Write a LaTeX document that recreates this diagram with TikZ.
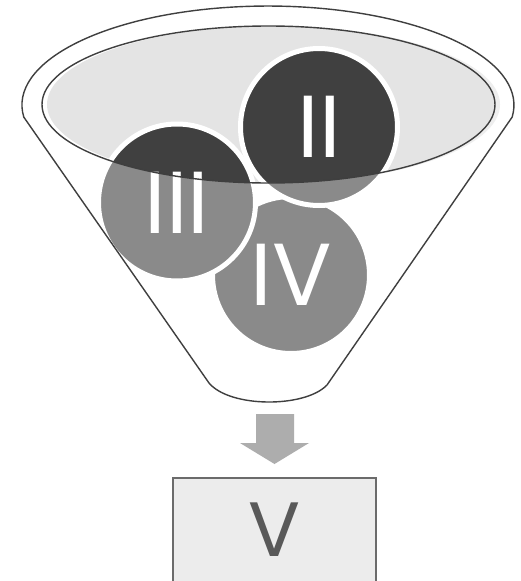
\documentclass[tikz,border=0pt]{standalone}
\usepackage{fontspec}
\setmainfont{Poppins}
\definecolor{dark}{HTML}{404040}
\definecolor{outline}{HTML}{3F3F3F}
\definecolor{ellgray}{HTML}{E4E4E4}
\definecolor{arrowgray}{HTML}{ADADAD}
\definecolor{boxfill}{HTML}{ECECEC}
\definecolor{boxdraw}{HTML}{6B6B6B}
\definecolor{vtext}{HTML}{595959}
\begin{document}
\begin{tikzpicture}[x=1pt,y=1pt,
  ball/.style={circle, minimum size=157pt, inner sep=0pt, draw=white, line width=5pt,
    fill=dark, text=white, font=\fontsize{88}{88}\selectfont},
  funnelline/.style={draw=outline, line width=1.4pt},
  resultbox/.style={draw=boxdraw, line width=1.5pt, fill=boxfill},
  resultlabel/.style={inner sep=0pt, text=vtext, font=\fontsize{77}{77}\selectfont},
]
\clip (0,0) rectangle (521,-581);
\fill[white] (0,0) rectangle (521,-581);
% funnel body
\fill[white] (23.8,-117.1) arc[start angle=187, end angle=-7, x radius=246, y radius=99]
  -- (327,-385) .. controls (305,-408) and (230,-408) .. (209,-383) -- cycle;
% inner ellipse fill
\fill[ellgray] (273.5,-104.5) ellipse [x radius=226.5, y radius=78.5];
% balls
\node[ball] (iv) at (291,-275) {IV};
\node[ball] (iii) at (177,-202.5) {III};
\node[ball] (ii) at (319,-127) {II};
% translucent funnel front
\fill[white, fill opacity=0.393, even odd rule]
  (23.8,-117.1) arc[start angle=187, end angle=-7, x radius=246, y radius=99]
  -- (327,-385) .. controls (305,-408) and (230,-408) .. (209,-383) -- cycle
  (268.5,-104.5) ellipse [x radius=226.5, y radius=78.5];
% outlines
\draw[funnelline] (268.5,-104.5) ellipse [x radius=226.5, y radius=78.5];
\draw[funnelline, line join=round] (23.8,-117.1) arc[start angle=187, end angle=-7, x radius=246, y radius=99]
  -- (327,-385) .. controls (305,-408) and (230,-408) .. (209,-383) -- cycle;
% arrow
\fill[arrowgray] (256,-414) -- (294,-414) -- (294,-443) -- (309,-443) -- (274.5,-464)
  -- (240,-443) -- (256,-443) -- cycle;
% result box (cut off by the picture's lower edge)
\draw[resultbox] (173,-478) rectangle (376,-600);
\node[resultlabel] (v) at (274.5,-530) {V};
\end{tikzpicture}
\end{document}
